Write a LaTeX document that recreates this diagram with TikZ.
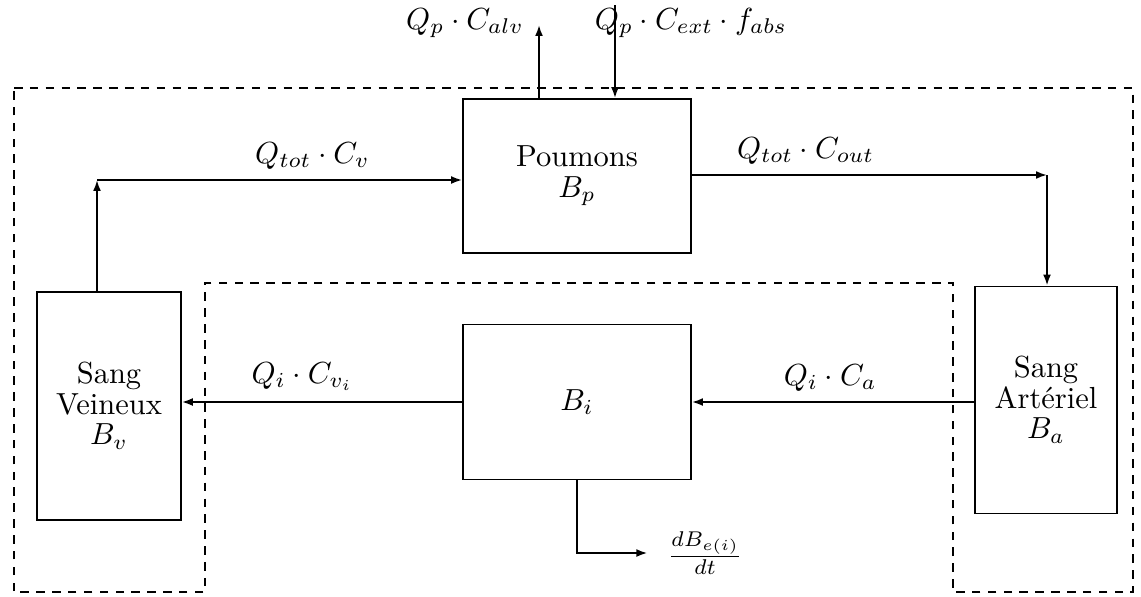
\documentclass[tikz,border=0pt]{standalone}
\usepackage{amsmath,amssymb}
\usepackage{tikz}
\usetikzlibrary{calc,arrows.meta,positioning}

\begin{document}
\begin{tikzpicture}[
    x=0.328pt, y=-0.328pt,
    font=\fontsize{10}{10}\selectfont,
    >={Latex[length=3.6pt,width=2.6pt]},
    semithick,
    compart/.style={draw, align=center, inner sep=2pt},
    zone/.style={dash pattern=on 2.8pt off 2.4pt, semithick}
  ]
  \useasboundingbox (0,0) rectangle (1141,596);

  % Compartiments
  \node[compart, minimum width=74.8pt, minimum height=50.5pt] (poum) at (577,176) {Poumons\\$B_p$};
  \node[compart, minimum width=47.2pt, minimum height=74.8pt] (vein) at (109,406) {Sang\\Veineux\\$B_v$};
  \node[compart, minimum width=74.8pt, minimum height=50.8pt] (bi) at (577,402) {$B_i$};
  \node[compart, minimum width=46.6pt, minimum height=74.5pt] (art) at (1046,400) {Sang\\Art\'eriel\\$B_a$};

  % Zone en pointilles
  \draw[zone] (14,88) -- (1133,88) -- (1133,592) -- (953,592) -- (953,283)
    -- (205,283) -- (205,592) -- (14,592) -- cycle;

  % Points de passage
  \coordinate (lc) at (97,180);
  \coordinate (rc) at (1047,175);
  \coordinate (alv) at (539,25);
  \coordinate (ext) at (615,5);
  \coordinate (bc) at (577,553);
  \node (dbe) at (705,553) {$\frac{dB_{e(i)}}{dt}$};

  % Flux
  \draw[->] (vein.north -| lc) -- (lc);
  \draw[->] (lc) -- (poum.west |- lc) node[pos=0.59, above] {$Q_{tot}\cdot C_v$};
  \draw[->] (poum.east |- rc) -- (rc) node[pos=0.32, above] {$Q_{tot}\cdot C_{out}$};
  \draw[->] (rc) -- (art.north -| rc);
  \draw[->] (art.west |- bi.east) -- (bi.east) node[pos=0.51, above] {$Q_i\cdot C_a$};
  \draw[->] (bi.west) -- (vein.east |- bi.west) node[pos=0.57, above] {$Q_i\cdot C_{v_i}$};
  \draw[->, shorten >=3pt] (bi.south) -- (bc) -- (dbe.west);

  % Echanges pulmonaires
  \draw[->] (poum.north -| alv) -- (alv);
  \draw[->] (ext) -- (poum.north -| ext);
  \node (lalv) at (465,23) {$Q_p\cdot C_{alv}$};
  \node (lext) at (691,23) {$Q_p\cdot C_{ext}\cdot f_{abs}$};

\end{tikzpicture}
\end{document}
